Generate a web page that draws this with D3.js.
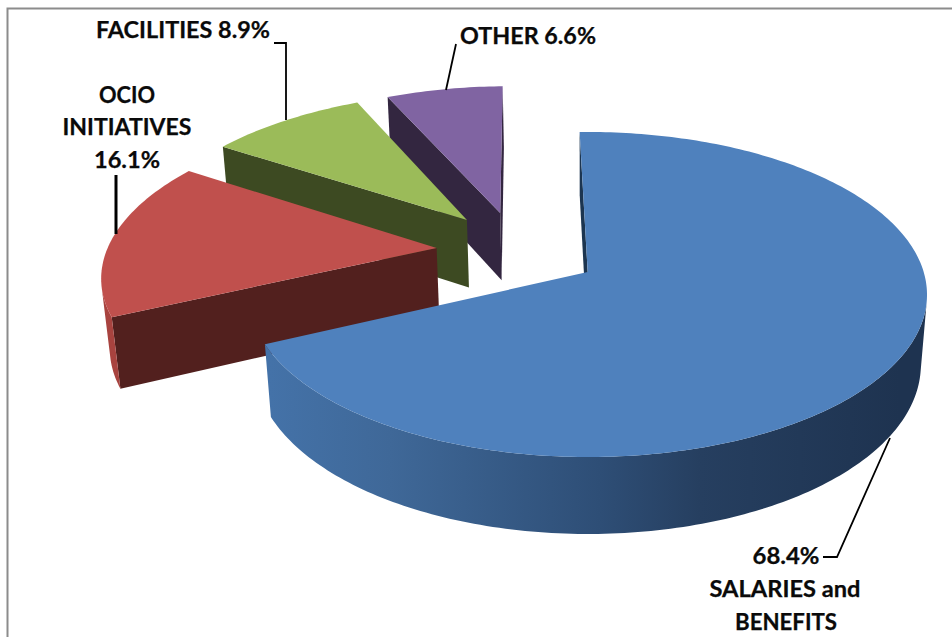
<!DOCTYPE html>
<html>
<head>
<meta charset="utf-8">
<script src="https://cdn.jsdelivr.net/npm/d3@7"></script>
<style>
  html, body { margin: 0; padding: 0; background: #fff; }
  svg { display: block; }
  text { font-family: Lato, "Open Sans", sans-serif; font-weight: 700; font-size: 22px; fill: #0a0a0a; stroke: #0a0a0a; stroke-width: 0.25px; }
</style>
</head>
<body>
<div id="chart"></div>
<script>
const categories = ["SALARIES and BENEFITS", "OCIO INITIATIVES", "FACILITIES", "OTHER"]
const shares = [68.4, 16.1, 8.9, 6.6]
const topColors = ["#4f81bd", "#c0504d", "#9bbb59", "#8064a2"]
const cutColors = ["#1c3550", "#52201e", "#3d4a22", "#332640"]
const rimColors = ["#4472a8", "#a8433f", "#6f8a3c", "#5d4878"]

const width = 952, height = 637

// projection of the pie plane
const cx = 585, cy = 272, rx = 336, ry = 159.4
const depth = 71, persp = 0.1385, depthPersp = 0.018
const firstAngle = -1.5 * Math.PI / 180

// how far each slice is pulled out, in pie radii on the plane
const pullX = [0.008, -0.451, -0.368, -0.266]
const pullZ = [0, 0.154, 0.342, 0.39]

const svg = d3.select("#chart").append("svg")
  .attr("width", width)
  .attr("height", height)

svg.append("path")
  .attr("d", `M${width},8.5H7.5V${height}`)
  .attr("fill", "none")
  .attr("stroke", "#8c8c8c")
  .attr("stroke-width", 2)

// blue wall shading runs left to right across the picture
const wallStops = [
  [270, "#4472a8"], [390, "#3f6898"], [600, "#2e4e76"], [700, "#263f60"], [900, "#1e3350"]
]
const wallX = d3.scaleLinear().domain([270, 900]).range([0, 1])
const wallGrad = svg.append("defs").append("linearGradient")
  .attr("id", "blueWall")
  .attr("gradientUnits", "userSpaceOnUse")
  .attr("x1", 270).attr("x2", 900)
  .attr("y1", 0).attr("y2", 0)
wallGrad.selectAll("stop")
  .data(wallStops)
  .enter()
  .append("stop")
  .attr("offset", d => wallX(d[0]))
  .attr("stop-color", d => d[1])

const pie = d3.pie().sort(null)
  .startAngle(firstAngle)
  .endAngle(firstAngle + 2 * Math.PI)
const arcs = pie(shares)

function project(x, z, t) {
  const w = 1 + persp * z + depthPersp * t
  return [cx + rx * x / w, cy + (depth * t - ry * z) / w]
}

function drawSlice(i) {
  const a = arcs[i]
  const ex = pullX[i], ez = pullZ[i]
  const pt = (ang, r, t) => project(ex + r * Math.sin(ang), ez + r * Math.cos(ang), t)
  const angles = d3.range(a.startAngle, a.endAngle, Math.PI / 180).concat(a.endAngle)
  const g = svg.append("g").attr("class", "slice")
  const line = d3.line()

  // cut faces, only when they face the viewer
  const cuts = [
    [pt(0, 0, 0), pt(a.startAngle, 1, 0), pt(a.startAngle, 1, 1), pt(0, 0, 1)],
    [pt(a.endAngle, 1, 0), pt(0, 0, 0), pt(0, 0, 1), pt(a.endAngle, 1, 1)]
  ]
  cuts.forEach(quad => {
    if (d3.polygonArea(quad) <= 0) return
    g.append("path")
      .attr("d", line(quad) + "Z")
      .attr("fill", cutColors[i])
  })

  // outer wall as one shape, from the run of degrees that face the viewer
  const visible = d3.pairs(angles).filter(p => d3.polygonArea([
    pt(p[0], 1, 0), pt(p[1], 1, 0), pt(p[1], 1, 1), pt(p[0], 1, 1)
  ]) > 0)
  if (visible.length) {
    const run = [visible[0][0]].concat(visible.map(p => p[1]))
    const wall = run.map(ang => pt(ang, 1, 0)).concat(run.slice().reverse().map(ang => pt(ang, 1, 1)))
    g.append("path")
      .attr("d", line(wall) + "Z")
      .attr("fill", i === 0 ? "url(#blueWall)" : rimColors[i])
  }

  const outline = [pt(0, 0, 0)].concat(angles.map(ang => pt(ang, 1, 0)))
  g.append("path")
    .attr("d", line(outline) + "Z")
    .attr("fill", topColors[i])
}

// back to front
;[3, 2, 1, 0].forEach(drawSlice)

// text, centre x, baseline y, width
const labelLines = [
  ["FACILITIES 8.9%", 183, 38, 174],
  ["OTHER 6.6%", 528, 44, 136],
  ["OCIO", 127, 103, 56],
  ["INITIATIVES", 127, 135, 129],
  ["16.1%", 127, 168, 66],
  ["68.4%", 786, 564, 67],
  ["SALARIES and", 785, 597, 151],
  ["BENEFITS", 786, 630, 102]
]

svg.selectAll("text.label")
  .data(labelLines)
  .enter()
  .append("text")
  .attr("class", "label")
  .attr("text-anchor", "middle")
  .attr("x", d => d[1])
  .attr("y", d => d[2])
  .attr("textLength", d => d[3])
  .attr("lengthAdjust", "spacingAndGlyphs")
  .text(d => d[0])

const leaders = [
  { pts: [[274, 43], [286, 43], [286, 120]], w: 1.8 },
  { pts: [[116, 175], [116, 234]], w: 3 },
  { pts: [[456, 44], [446, 90]], w: 1.8 },
  { pts: [[823, 557], [837, 557], [890, 438]], w: 1.8 }
]

svg.selectAll("path.leader")
  .data(leaders)
  .enter()
  .append("path")
  .attr("class", "leader")
  .attr("d", d => d3.line()(d.pts))
  .attr("fill", "none")
  .attr("stroke", "#000")
  .attr("stroke-width", d => d.w)
</script>
</body>
</html>
